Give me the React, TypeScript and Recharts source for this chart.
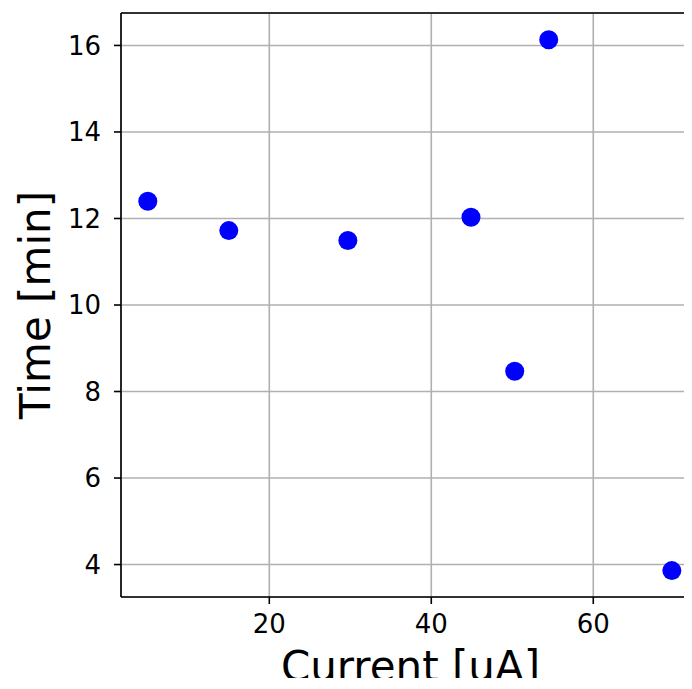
import { ScatterChart, Scatter, XAxis, YAxis, CartesianGrid, ReferenceLine } from 'recharts';

const currents = [5, 15, 29.7, 44.9, 50.3, 54.5, 69.7];
const times = [12.4, 11.72, 11.49, 12.03, 8.47, 16.13, 3.86];
const xTicks = [20, 40, 60];
const yTicks = [4, 6, 8, 10, 12, 14, 16];

const data = currents.map((c, i) => ({ current: c, time: times[i] }));

const FONT = 'DejaVu Sans, sans-serif';
const LINE_W = 1.6;

const Dot = (props: any) => <circle cx={props.cx} cy={props.cy} r={9.5} fill="#0000ff" />;

export default function App() {
    // outer box is shorter than the chart so the body margin does not add a scrollbar
    return (
        <div style={{ width: 684, height: 670, fontFamily: FONT }}>
            <ScatterChart width={684} height={681} margin={{ top: 5, right: 0, bottom: 0, left: 0 }}>
                <CartesianGrid stroke="#b0b0b0" strokeWidth={LINE_W} />
                <XAxis
                    type="number"
                    dataKey="current"
                    domain={[1.69, 72.19]}
                    ticks={xTicks}
                    allowDataOverflow
                    height={92}
                    tickSize={7}
                    tickMargin={11}
                    axisLine={{ stroke: '#000', strokeWidth: LINE_W }}
                    tickLine={{ stroke: '#000', strokeWidth: LINE_W }}
                    tick={{ fill: '#000', fontSize: 26, fontFamily: FONT }}
                    label={{
                        value: 'Current [uA]',
                        position: 'insideBottom',
                        offset: 8,
                        dx: 4,
                        style: { fontSize: 42, fontFamily: FONT, fill: '#000' },
                    }}
                />
                <YAxis
                    type="number"
                    dataKey="time"
                    domain={[3.25, 16.75]}
                    ticks={yTicks}
                    allowDataOverflow
                    width={113}
                    tickSize={7}
                    tickMargin={13}
                    axisLine={{ stroke: '#000', strokeWidth: LINE_W }}
                    tickLine={{ stroke: '#000', strokeWidth: LINE_W }}
                    tick={{ fill: '#000', fontSize: 26, fontFamily: FONT }}
                    label={{
                        value: 'Time [min]',
                        angle: -90,
                        position: 'insideLeft',
                        offset: 27,
                        style: { fontSize: 42, fontFamily: FONT, fill: '#000', textAnchor: 'middle' },
                    }}
                />
                <ReferenceLine y={16.75} stroke="#000" strokeWidth={LINE_W} ifOverflow="visible" />
                <Scatter data={data} shape={Dot} isAnimationActive={false} />
            </ScatterChart>
        </div>
    );
}
